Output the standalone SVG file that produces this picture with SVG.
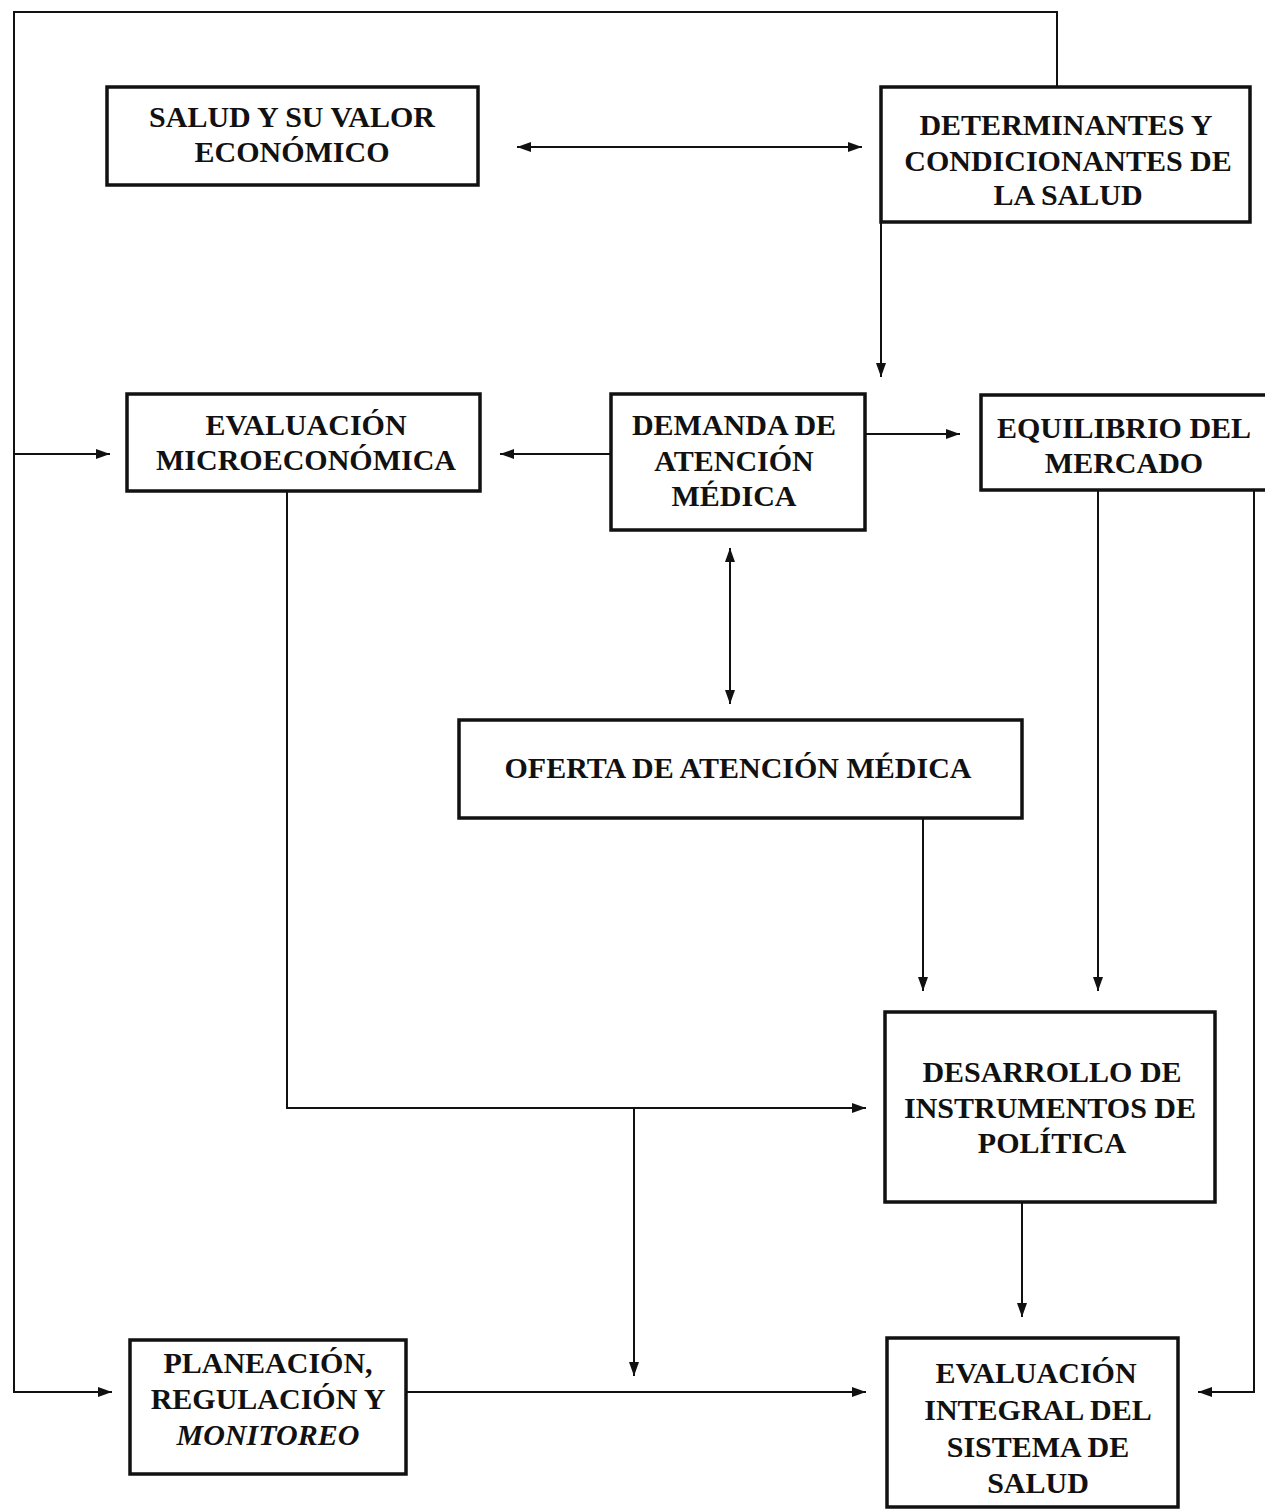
<svg xmlns="http://www.w3.org/2000/svg" width="1265" height="1509" viewBox="0 0 1265 1509">
<defs>
<marker id="ah" viewBox="0 0 14 10" refX="14" refY="5" markerWidth="14" markerHeight="10" markerUnits="userSpaceOnUse" orient="auto-start-reverse">
<path d="M0,0 L14,5 L0,10 Z" fill="#111"/>
</marker>
<style>
.box{fill:#fff;stroke:#111;stroke-width:3.5}
.t{font-family:"Liberation Serif","Times New Roman",serif;font-weight:bold;font-size:30px;fill:#111;text-anchor:middle}
.c{fill:none;stroke:#111;stroke-width:2}
</style>
</defs>
<rect width="1265" height="1509" fill="#fff"/>
<g id="connectors">
<polyline class="c" points="1057,87 1057,12 14,12 14,1392 112,1392" marker-end="url(#ah)"/>
<line class="c" x1="14" y1="454" x2="110" y2="454" marker-end="url(#ah)"/>
<line class="c" x1="517" y1="147" x2="862" y2="147" marker-start="url(#ah)" marker-end="url(#ah)"/>
<line class="c" x1="881" y1="222" x2="881" y2="377" marker-end="url(#ah)"/>
<line class="c" x1="611" y1="454" x2="500" y2="454" marker-end="url(#ah)"/>
<line class="c" x1="865" y1="434" x2="960" y2="434" marker-end="url(#ah)"/>
<line class="c" x1="730" y1="548" x2="730" y2="704" marker-start="url(#ah)" marker-end="url(#ah)"/>
<line class="c" x1="923" y1="818" x2="923" y2="991" marker-end="url(#ah)"/>
<line class="c" x1="1098" y1="491" x2="1098" y2="991" marker-end="url(#ah)"/>
<polyline class="c" points="1254,491 1254,1392 1198,1392" marker-end="url(#ah)"/>
<polyline class="c" points="287,491 287,1108 866,1108" marker-end="url(#ah)"/>
<line class="c" x1="634" y1="1108" x2="634" y2="1376" marker-end="url(#ah)"/>
<line class="c" x1="1022" y1="1203" x2="1022" y2="1317" marker-end="url(#ah)"/>
<line class="c" x1="406" y1="1392" x2="866" y2="1392" marker-end="url(#ah)"/>
</g>
<g id="salud">
<rect class="box" x="107" y="87" width="371" height="98"/>
<text class="t" x="292" y="127">SALUD Y SU VALOR</text>
<text class="t" x="292" y="162">ECONÓMICO</text>
</g>
<g id="determinantes">
<rect class="box" x="881" y="87" width="369" height="135"/>
<text class="t" x="1066" y="135">DETERMINANTES Y</text>
<text class="t" x="1068" y="171">CONDICIONANTES DE</text>
<text class="t" x="1068" y="205">LA SALUD</text>
</g>
<g id="evalmicro">
<rect class="box" x="127" y="394" width="353" height="97"/>
<text class="t" x="306" y="435">EVALUACIÓN</text>
<text class="t" x="306" y="470">MICROECONÓMICA</text>
</g>
<g id="demanda">
<rect class="box" x="611" y="394" width="254" height="136"/>
<text class="t" x="734" y="435">DEMANDA DE</text>
<text class="t" x="734" y="471">ATENCIÓN</text>
<text class="t" x="734" y="506">MÉDICA</text>
</g>
<g id="equilibrio">
<rect class="box" x="981" y="395" width="290" height="95"/>
<text class="t" x="1124" y="438">EQUILIBRIO DEL</text>
<text class="t" x="1124" y="473">MERCADO</text>
</g>
<g id="oferta">
<rect class="box" x="459" y="720" width="563" height="98"/>
<text class="t" x="738" y="778">OFERTA DE ATENCIÓN MÉDICA</text>
</g>
<g id="desarrollo">
<rect class="box" x="885" y="1012" width="330" height="190"/>
<text class="t" x="1052" y="1082">DESARROLLO DE</text>
<text class="t" x="1050" y="1118">INSTRUMENTOS DE</text>
<text class="t" x="1052" y="1153">POLÍTICA</text>
</g>
<g id="planeacion">
<rect class="box" x="130" y="1340" width="276" height="134"/>
<text class="t" x="268" y="1373">PLANEACIÓN,</text>
<text class="t" x="268" y="1409">REGULACIÓN Y</text>
<text class="t" x="268" y="1445" font-style="italic">MONITOREO</text>
</g>
<g id="evalintegral">
<rect class="box" x="887" y="1338" width="291" height="169"/>
<text class="t" x="1036" y="1383">EVALUACIÓN</text>
<text class="t" x="1038" y="1420">INTEGRAL DEL</text>
<text class="t" x="1038" y="1457">SISTEMA DE</text>
<text class="t" x="1038" y="1493">SALUD</text>
</g>
</svg>
